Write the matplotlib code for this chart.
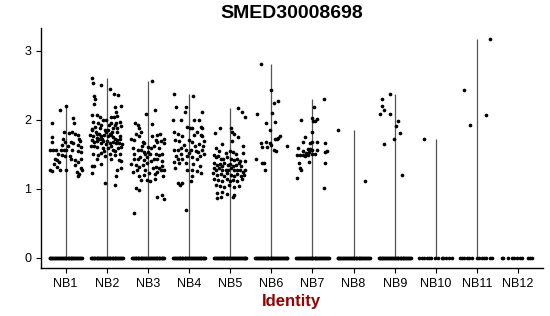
import matplotlib
matplotlib.use("Agg")
import matplotlib.pyplot as plt
import numpy as np

plt.rcParams["font.family"] = ["Liberation Sans", "DejaVu Sans"]

# === data (expression per cell, jitter offset per cell) ===
groups = ["NB1", "NB2", "NB3", "NB4", "NB5", "NB6", "NB7", "NB8", "NB9", "NB10", "NB11", "NB12"]

nb1_expr = [2.20, 2.14, 2.03, 1.96, 1.95, 1.81, 1.83, 1.80, 1.78, 1.73, 1.75, 1.68, 1.73, 1.68,
            1.63, 1.68, 1.66, 1.63, 1.61, 1.57, 1.57, 1.56, 1.56, 1.57, 1.56, 1.55, 1.54, 1.49,
            1.48, 1.44, 1.42, 1.39, 1.44, 1.42, 1.39, 1.44, 1.28, 1.26, 1.32, 1.27, 1.27, 1.25,
            1.22, 1.30, 1.28, 1.18, 1.82, 1.62, 1.50, 1.47, 1.36, 1.34, 1.57, 1.70]
nb1_jit = [0.02, -0.14, 0.19, 0.20, -0.34, 0.08, 0.16, 0.23, 0.29, 0.32, -0.34, -0.32, -0.06, -0.02,
           -0.10, 0.13, 0.19, 0.29, 0.37, -0.38, -0.30, -0.24, -0.03, 0.02, 0.15, 0.29, 0.37, -0.08,
           -0.02, -0.27, -0.22, -0.16, 0.13, 0.23, 0.31, 0.37, -0.38, -0.34, -0.20, -0.14, 0.02, 0.27,
           0.32, 0.37, 0.40, 0.31, -0.05, 0.05, -0.18, 0.10, -0.28, 0.22, -0.12, 0.34]

nb2_expr = [2.61, 2.53, 2.50, 2.45, 2.38, 2.36, 2.34, 2.31, 2.23, 2.20, 2.18, 2.12, 2.07, 2.07,
            2.04, 2.04, 2.04, 2.05, 1.97, 1.95, 2.00, 2.00, 1.96, 1.96, 1.97, 1.90, 1.85, 1.88,
            1.85, 1.86, 1.88, 1.89, 1.91, 1.78, 1.76, 1.79, 1.73, 1.76, 1.78, 1.76, 1.78, 1.73,
            1.71, 1.76, 1.71, 1.68, 1.70, 1.67, 1.70, 1.65, 1.67, 1.68, 1.66, 1.67, 1.62, 1.61,
            1.60, 1.59, 1.57, 1.59, 1.61, 1.51, 1.49, 1.52, 1.51, 1.49, 1.51, 1.44, 1.47, 1.43,
            1.42, 1.41, 1.33, 1.33, 1.36, 1.28, 1.30, 1.23, 1.18, 1.08, 1.06, 1.82, 1.80, 1.82,
            1.80, 1.83, 1.82, 1.87, 1.72, 1.70, 1.75, 1.72, 1.74, 1.92, 1.93, 1.93, 1.62, 1.62,
            1.65, 1.55, 1.55]
nb2_jit = [-0.37, -0.33, -0.13, 0.07, 0.18, 0.27, -0.31, -0.29, -0.31, 0.35, 0.21, 0.23, -0.37, -0.25,
           -0.17, 0.11, 0.18, 0.26, -0.33, -0.21, -0.09, -0.01, 0.11, 0.23, 0.31, -0.29, -0.37, -0.17,
           -0.05, 0.03, 0.15, 0.26, 0.34, -0.41, -0.33, -0.25, -0.19, -0.13, -0.06, 0.03, 0.11, 0.19,
           0.26, 0.31, -0.37, -0.31, -0.23, -0.15, -0.09, -0.01, 0.07, 0.15, 0.23, 0.29, -0.39, -0.25,
           -0.09, 0.03, 0.15, 0.27, 0.35, -0.33, -0.21, -0.13, 0.07, 0.21, 0.31, -0.25, -0.05, 0.11,
           0.29, 0.35, -0.37, -0.31, -0.13, 0.26, 0.35, -0.35, 0.23, -0.05, 0.21, -0.27, -0.20, -0.02,
           0.08, 0.13, 0.24, -0.35, -0.11, 0.01, 0.16, 0.33, -0.24, 0.05, -0.14, 0.20, -0.30, 0.10,
           0.38, -0.06, 0.19]

nb3_expr = [2.57, 2.08, 2.15, 1.94, 1.96, 1.92, 1.88, 1.83, 1.80, 1.78, 1.80, 1.76, 1.73, 1.71,
            1.76, 1.68, 1.66, 1.71, 1.68, 1.70, 1.72, 1.66, 1.61, 1.59, 1.62, 1.59, 1.56, 1.57,
            1.54, 1.51, 1.54, 1.51, 1.51, 1.49, 1.51, 1.44, 1.43, 1.46, 1.42, 1.44, 1.43, 1.41,
            1.36, 1.35, 1.32, 1.35, 1.37, 1.32, 1.30, 1.33, 1.28, 1.25, 1.27, 1.27, 1.23, 1.22,
            1.25, 1.27, 1.20, 1.13, 1.13, 1.12, 1.14, 1.01, 0.98, 0.89, 0.91, 0.85, 0.65, 1.62,
            1.40, 1.46, 1.60, 1.50, 1.30, 1.18, 1.18]
nb3_jit = [0.11, -0.05, 0.18, 0.11, -0.31, -0.25, -0.21, -0.17, -0.29, 0.23, 0.30, 0.11, -0.40, -0.33,
           -0.21, -0.13, -0.09, 0.19, 0.23, 0.31, 0.38, 0.40, -0.01, 0.07, 0.15, -0.37, -0.25, -0.17,
           -0.09, -0.07, 0.01, 0.06, 0.19, 0.27, 0.35, -0.33, -0.25, -0.19, -0.10, 0.14, 0.23, 0.33,
           -0.41, -0.29, -0.21, -0.13, -0.02, 0.19, 0.27, 0.33, 0.40, -0.37, -0.27, -0.07, 0.03, 0.17,
           0.23, 0.31, -0.09, -0.17, -0.02, 0.06, 0.17, -0.29, -0.21, 0.23, 0.35, 0.38, -0.35, -0.15,
           0.08, -0.03, 0.28, -0.35, 0.12, -0.22, 0.36]

nb4_expr = [2.37, 2.35, 2.18, 2.18, 2.12, 2.12, 2.00, 2.00, 2.00, 2.00, 1.90, 1.88, 1.89, 1.90,
            1.88, 1.83, 1.80, 1.76, 1.78, 1.76, 1.83, 1.78, 1.71, 1.70, 1.71, 1.68, 1.65, 1.62,
            1.57, 1.56, 1.59, 1.57, 1.56, 1.55, 1.54, 1.56, 1.47, 1.43, 1.44, 1.48, 1.46, 1.43,
            1.48, 1.51, 1.39, 1.37, 1.38, 1.36, 1.27, 1.28, 1.26, 1.23, 1.08, 1.06, 1.09, 1.11,
            1.18, 0.70, 1.64, 1.62, 1.30, 1.33, 1.52, 1.50, 1.70]
nb4_jit = [-0.36, 0.10, -0.32, -0.08, -0.10, 0.32, -0.40, -0.20, 0.12, 0.24, -0.04, 0.02, 0.08, 0.28,
           0.32, -0.36, -0.28, -0.16, 0.28, 0.32, 0.19, 0.12, -0.35, -0.24, 0.00, 0.08, 0.24, 0.34,
           -0.36, -0.28, -0.19, -0.08, 0.04, 0.16, 0.22, 0.32, -0.32, -0.27, -0.16, -0.04, 0.08, 0.20,
           0.27, 0.36, -0.36, -0.24, -0.08, 0.10, -0.06, 0.08, 0.20, 0.30, -0.28, -0.22, -0.16, 0.04,
           0.08, -0.08, -0.12, 0.14, -0.33, 0.27, 0.00, -0.20, 0.36]

nb5_expr = [2.17, 2.11, 2.04, 1.89, 1.88, 1.80, 1.83, 1.81, 1.55, 1.52, 1.55, 1.54, 1.51, 1.52,
            1.49, 1.46, 1.47, 1.43, 1.44, 1.46, 1.43, 1.42, 1.44, 1.41, 1.40, 1.37, 1.35, 1.36,
            1.33, 1.37, 1.35, 1.36, 1.33, 1.35, 1.37, 1.33, 1.30, 1.28, 1.30, 1.28, 1.28, 1.27,
            1.30, 1.27, 1.27, 1.28, 1.25, 1.27, 1.23, 1.20, 1.22, 1.19, 1.23, 1.20, 1.19, 1.22,
            1.18, 1.20, 1.14, 1.13, 1.12, 1.14, 1.11, 1.13, 1.11, 1.14, 1.06, 1.04, 1.03, 1.06,
            1.03, 1.04, 0.94, 0.95, 0.93, 0.91, 0.87, 0.88, 0.88, 1.65, 1.70, 1.62, 1.60, 1.75]
nb5_jit = [0.19, 0.29, 0.37, -0.25, 0.01, 0.10, 0.05, -0.38, -0.27, -0.11, -0.01, 0.07, 0.15, 0.31,
           -0.40, -0.35, -0.30, -0.23, -0.17, -0.07, 0.01, 0.09, 0.17, 0.25, 0.35, -0.40, -0.31, -0.25,
           -0.19, -0.14, -0.06, -0.01, 0.07, 0.13, 0.21, 0.27, -0.40, -0.35, -0.27, -0.19, -0.11, -0.06,
           0.02, 0.10, 0.17, 0.25, 0.31, 0.37, -0.41, -0.33, -0.23, -0.15, -0.07, 0.01, 0.09, 0.17,
           0.27, 0.33, -0.40, -0.30, -0.19, -0.09, -0.01, 0.07, 0.17, 0.29, -0.35, -0.25, -0.15, -0.03,
           0.09, 0.21, -0.31, -0.19, -0.07, 0.10, -0.31, -0.23, 0.07, -0.20, 0.05, 0.30, -0.35, 0.18]

nb6_expr = [2.81, 2.44, 2.27, 2.09, 2.10, 1.95, 1.97, 1.85, 1.76, 1.74, 1.72, 1.73, 1.67, 1.68,
            1.66, 1.64, 1.62, 1.61, 1.61, 1.57, 1.44, 1.38, 1.38, 1.27, 1.55, 2.24]
nb6_jit = [-0.24, 0.00, 0.17, -0.34, 0.02, -0.14, 0.09, -0.04, 0.20, 0.15, 0.13, 0.08, -0.25, -0.13,
           -0.04, 0.00, 0.39, -0.22, -0.10, 0.06, -0.37, -0.23, -0.17, -0.16, 0.12, 0.06]

nb7_expr = [2.31, 2.18, 2.00, 2.03, 2.01, 1.98, 1.98, 1.82, 1.75, 1.68, 1.66, 1.68, 1.68, 1.67,
            1.60, 1.55, 1.58, 1.58, 1.57, 1.54, 1.53, 1.55, 1.49, 1.49, 1.49, 1.48, 1.49, 1.38,
            1.39, 1.38, 1.30, 1.28, 1.16, 1.02, 1.52, 1.51, 1.50, 1.56]
nb7_jit = [0.27, 0.04, -0.27, 0.00, 0.10, 0.02, 0.06, 0.00, -0.19, -0.24, -0.07, 0.00, 0.11, 0.30,
           -0.34, -0.23, -0.12, -0.05, 0.00, -0.08, 0.30, 0.36, -0.37, -0.30, -0.23, -0.18, -0.12, -0.33,
           -0.08, 0.31, -0.30, -0.29, -0.37, 0.28, -0.15, -0.02, 0.05, 0.12]

nb8_expr = [1.85, 1.11]
nb8_jit = [-0.39, 0.27]

nb9_expr = [2.38, 2.31, 2.20, 2.14, 2.08, 2.08, 1.99, 1.91, 1.81, 1.72, 1.65, 1.20]
nb9_jit = [-0.11, -0.31, -0.32, -0.27, -0.36, -0.11, 0.09, 0.04, 0.13, -0.01, -0.27, 0.18]

nb10_expr = [1.72]
nb10_jit = [-0.28]

nb11_expr = [3.17, 2.43, 2.07, 1.93]
nb11_jit = [0.32, -0.31, 0.22, -0.17]

nb12_expr = []
nb12_jit = []

# cells with zero expression (offsets within each column)
zero_jit_dense = [-0.39, -0.37, -0.35, -0.32, -0.30, -0.28, -0.25, -0.23, -0.21, -0.18, -0.16, -0.14,
                  -0.11, -0.09, -0.07, -0.04, -0.02, 0.00, 0.02, 0.05, 0.07, 0.09, 0.12, 0.14, 0.16,
                  0.19, 0.21, 0.23, 0.26, 0.28, 0.30, 0.33, 0.35, 0.37, 0.39]
zero_jit_nb10 = [-0.40, -0.34, -0.28, -0.22, -0.16, -0.11, -0.03, 0.06, 0.15, 0.18, 0.24, 0.32, 0.39]
zero_jit_nb11 = [-0.41, -0.36, -0.31, -0.25, -0.19, -0.13, -0.01, 0.05, 0.11, 0.18, 0.23, 0.31, 0.37]
zero_jit_nb12 = [-0.40, -0.36, -0.24, -0.16, -0.10, -0.04, 0.04, 0.10, 0.23, 0.28, 0.34]

expr = [nb1_expr, nb2_expr, nb3_expr, nb4_expr, nb5_expr, nb6_expr,
        nb7_expr, nb8_expr, nb9_expr, nb10_expr, nb11_expr, nb12_expr]
jit = [nb1_jit, nb2_jit, nb3_jit, nb4_jit, nb5_jit, nb6_jit,
       nb7_jit, nb8_jit, nb9_jit, nb10_jit, nb11_jit, nb12_jit]
zero_jit = [zero_jit_dense] * 9 + [zero_jit_nb10, zero_jit_nb11, zero_jit_nb12]

# === plot ===
fig = plt.figure(figsize=(5.5, 3.16), dpi=100)
ax = fig.add_axes([0.0745, 0.151, 0.9125, 0.76])

pos = np.arange(1, len(groups) + 1)

# the violins collapse to hairlines: draw them from 0 up to the group max
for p, vals in zip(pos, expr):
    if len(vals) > 0:
        ax.vlines(p, 0, max(vals), color="#555555", lw=0.9, zorder=1)

for p, vals, dx, zdx in zip(pos, expr, jit, zero_jit):
    xs = [p + d for d in dx] + [p + d for d in zdx]
    ys = list(vals) + [0.0] * len(zdx)
    ax.scatter(xs, ys, s=7, color="black", linewidths=0, zorder=2)

ax.set_xlim(0.4, 12.6)
ax.set_ylim(-0.15, 3.33)
ax.set_xticks(pos)
ax.set_xticklabels(groups)
ax.set_yticks([0, 1, 2, 3])
ax.tick_params(labelsize=9, length=3.5, width=0.8, colors="black")

for s in ["top", "right"]:
    ax.spines[s].set_visible(False)
for s in ["left", "bottom"]:
    ax.spines[s].set_linewidth(1.0)

ax.set_title("SMED30008698", fontsize=14, fontweight="bold", pad=7)
ax.set_xlabel("Identity", fontsize=12, fontweight="bold", color="#990000", labelpad=3)

fig.savefig("out.png", dpi=100)
